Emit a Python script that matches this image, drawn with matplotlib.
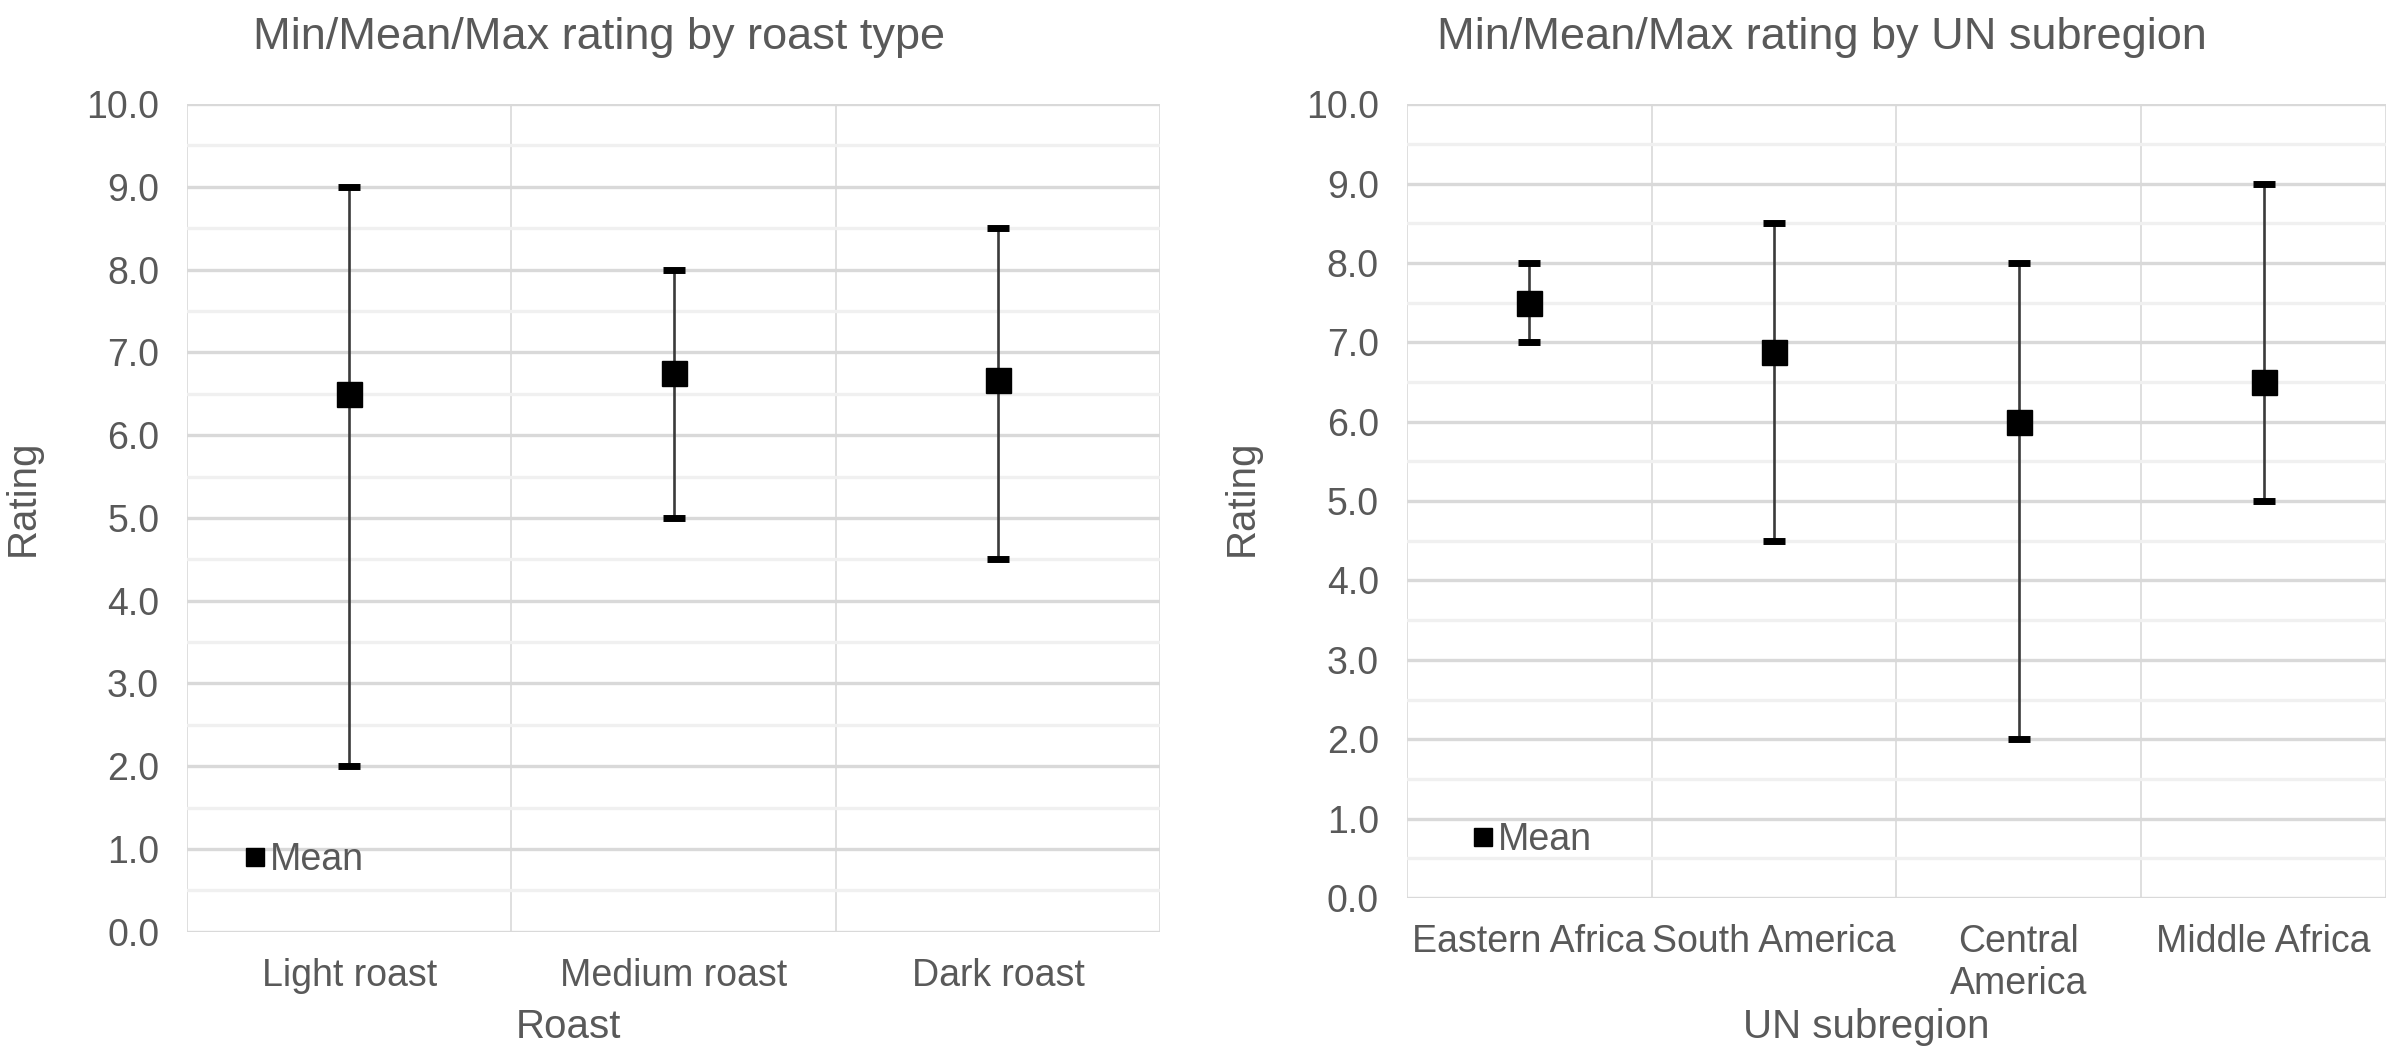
import numpy as np
import matplotlib.pyplot as plt
from matplotlib.lines import Line2D
from matplotlib.ticker import MultipleLocator, FixedLocator

plt.rcParams['font.family'] = ['Liberation Sans', 'DejaVu Sans']

TXT = '#595959'

# data: roast type
roast = ['Light roast', 'Medium roast', 'Dark roast']
roast_min = [2.0, 5.0, 4.5]
roast_mean = [6.5, 6.75, 6.67]
roast_max = [9.0, 8.0, 8.5]

# data: UN subregion
region = ['Eastern Africa', 'South America', 'Central\nAmerica', 'Middle Africa']
region_min = [7.0, 4.5, 2.0, 5.0]
region_mean = [7.5, 6.88, 6.0, 6.5]
region_max = [8.0, 8.5, 8.0, 9.0]


def draw(ax, cats, lo, mid, hi, leg_xy):
    n = len(cats)
    x = np.arange(n)
    mid = np.array(mid)
    err = [mid - np.array(lo), np.array(hi) - mid]
    line, caps, bars = ax.errorbar(x, mid, yerr=err, fmt='s', color='black',
                                   ms=18, ecolor='black', elinewidth=1.9,
                                   capsize=8, capthick=5, zorder=3)
    for b in bars:
        b.set_color('#3a3a3a')
    ax.set_xlim(-0.5, n - 0.5)
    ax.set_ylim(0, 10)
    ax.yaxis.set_major_locator(MultipleLocator(1))
    ax.yaxis.set_minor_locator(MultipleLocator(0.5))
    ax.set_yticklabels([f'{v:.1f}' for v in ax.get_yticks()])
    ax.set_xticks(x)
    ax.set_xticklabels(cats, linespacing=1.2)
    ax.xaxis.set_minor_locator(FixedLocator(np.arange(-0.5, n, 1.0)))
    ax.grid(axis='y', which='major', color='#d9d9d9', lw=2.4, zorder=0)
    ax.grid(axis='y', which='minor', color='#f0f0f0', lw=2.4, zorder=0)
    ax.grid(axis='x', which='minor', color='#d9d9d9', lw=1.2, zorder=0)
    ax.grid(axis='x', which='major', visible=False)
    for s in ax.spines.values():
        s.set_visible(False)
    ax.tick_params(which='both', length=0, labelsize=27, labelcolor=TXT)
    ax.tick_params(axis='x', pad=19)
    ax.tick_params(axis='y', pad=20)
    ax.set_axisbelow(True)
    proxy = Line2D([], [], ls='none', marker='s', color='black', ms=13.5)
    ax.legend([proxy], ['Mean'], loc='center left', bbox_to_anchor=leg_xy,
              frameon=False, fontsize=27, labelcolor=TXT, borderpad=0,
              borderaxespad=0, handlelength=0.5, handletextpad=0.15)


fig = plt.figure(figsize=(24.03, 10.6), dpi=100)
ax1 = fig.add_axes([0.0778, 0.121, 0.405, 0.7808])
ax2 = fig.add_axes([0.5854, 0.1528, 0.4075, 0.7489])

draw(ax1, roast, roast_min, roast_mean, roast_max, (0.06, 0.087))
draw(ax2, region, region_min, region_mean, region_max, (0.068, 0.073))

fig.text(0.2494, 0.965, 'Min/Mean/Max rating by roast type', ha='center',
         va='center', fontsize=32.5, color=TXT)
fig.text(0.7583, 0.965, 'Min/Mean/Max rating by UN subregion', ha='center',
         va='center', fontsize=32.5, color=TXT)
fig.text(0.2366, 0.031, 'Roast', ha='center', va='center', fontsize=29, color=TXT)
fig.text(0.7768, 0.031, 'UN subregion', ha='center', va='center', fontsize=29,
         color=TXT)
fig.text(0.0096, 0.53, 'Rating', ha='center', va='center', rotation=90,
         fontsize=29, color=TXT)
fig.text(0.5166, 0.53, 'Rating', ha='center', va='center', rotation=90,
         fontsize=29, color=TXT)

fig.savefig('out.png', dpi=100)
